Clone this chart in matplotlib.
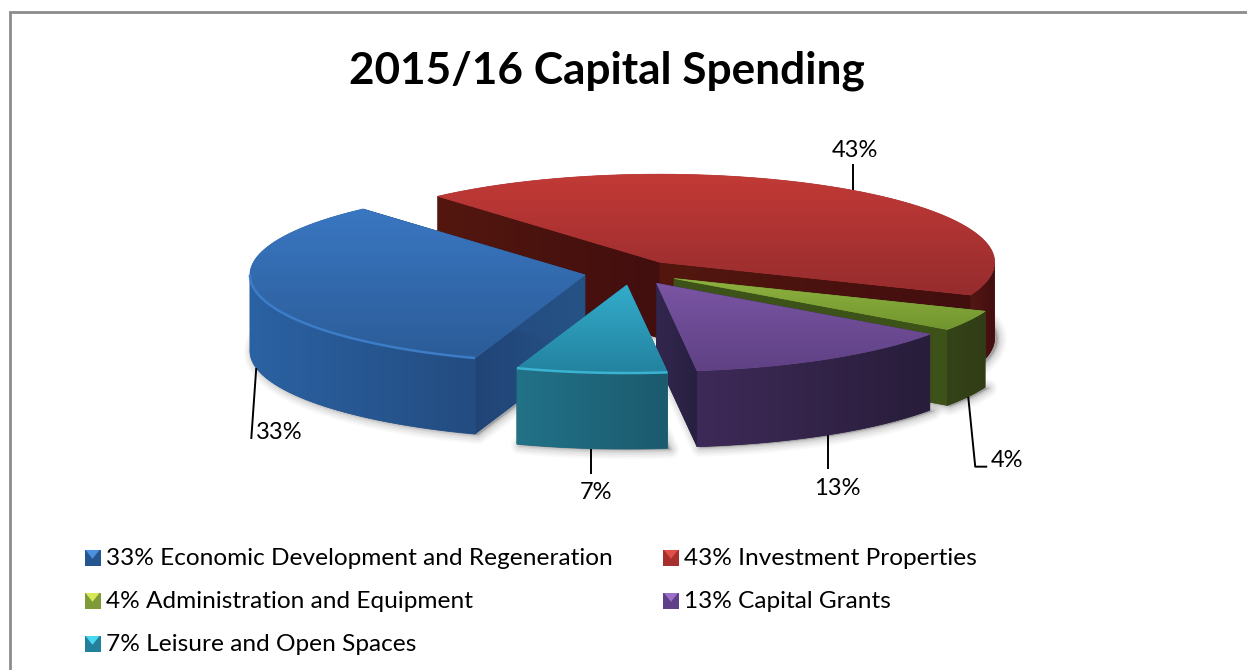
import numpy as np
import matplotlib
matplotlib.use("Agg")
import matplotlib.pyplot as plt
from matplotlib.patches import Polygon
from matplotlib.colors import LinearSegmentedColormap

# ---- data -------------------------------------------------------------
title = "2015/16 Capital Spending"
categories = ["Investment Properties", "Administration and Equipment", "Capital Grants",
              "Leisure and Open Spaces", "Economic Development and Regeneration"]
values = [42.6, 3.75, 13.25, 7.25, 33.15]
legend_order = [4, 0, 1, 2, 3]

# ---- style ------------------------------------------------------------
top_cols = [("#C23A36", "#962C2E"), ("#8FB240", "#72962F"), ("#7A55A3", "#5F4184"),
            ("#33ACCB", "#23829F"), ("#3A77C2", "#2B5C98")]
wall_cols = [("#521713", "#430E10"), ("#354418", "#313D16"), ("#3E2A58", "#281D3A"),
             ("#227288", "#1C5A6E"), ("#2B62A3", "#234C80")]
flat_cols = [("#53170F", "#420E0E"), ("#3D5218", "#3D5218"), ("#33264F", "#272040"),
             ("#1F6075", "#1F6075"), ("#214476", "#265286")]
rim_cols = [None, None, None, "#3DBAD8", "#3F80CC"]
leg_cols = [("#E0504A", "#A8302C"), ("#D8E858", "#7F9A38"), ("#9A70C8", "#5E3F88"),
            ("#48D8F0", "#22809A"), ("#4C90E0", "#265690")]

W, H = 1247, 670
CX, CY, RX, RY = 632.0, 272.5, 335.0, 88.0      # pie centre and ellipse radii, px
DEPTH = 76.0 / RY
EXPLODE = 48.0 / RX
START = 131.5

# leader bend points and label centre, px offsets from the slice's rim point
leaders = [[(0, -26)], [(7, 70), (19, 70)], [(0, 34)], [(0, 25)], [(-5, 71)]]
label_pos = [(2, -40), (39, 64), (9, 54), (4.5, 44), (23, 65)]

fig = plt.figure(figsize=(W / 100, H / 100), dpi=100, facecolor="white")
ax = fig.add_axes([0, 0, 1, 1])
lim = ((-CX / RX, (W - CX) / RX), ((CY - H) / RY, CY / RY))
ax.set_xlim(*lim[0]); ax.set_ylim(*lim[1]); ax.axis("off")
ax.patch.set_alpha(0)

lg = fig.add_axes([0, 0, 1, 1])
lg.set_xlim(0, W); lg.set_ylim(H, 0); lg.axis("off"); lg.patch.set_alpha(0)


def grad(pts, c0, c1, horizontal, z):
    pts = np.asarray(pts)
    cmap = LinearSegmentedColormap.from_list("g", [c0, c1])
    ramp = np.linspace(0, 1, 256)
    img = ramp[None, :] if horizontal else ramp[:, None]
    x0, y0 = pts.min(axis=0); x1, y1 = pts.max(axis=0)
    ax.add_patch(Polygon(pts, closed=True, fc=cmap(0.5), ec=cmap(0.5), lw=0.5, zorder=z))
    im = ax.imshow(img, cmap=cmap, extent=(x0, x1, y0, y1), origin="upper", aspect="auto",
                   interpolation="bilinear", zorder=z + 0.1, vmin=0, vmax=1)
    im.set_clip_path(Polygon(pts, closed=True, transform=ax.transData))


def arc(a0, a1, n=120):
    t = np.radians(np.linspace(a0, a1, n))
    return np.column_stack([np.cos(t), np.sin(t)])


# ---- slices -----------------------------------------------------------
ends = START - np.cumsum(values) * 3.6
begins = np.r_[START, ends[:-1]]
mids = (begins + ends) / 2
down = np.array([0, -DEPTH])
apexes = [EXPLODE * np.array([np.cos(np.radians(m)), np.sin(np.radians(m))]) for m in mids]

# soft shadow below every slice
for a0, a1, ap in zip(begins, ends, apexes):
    base = np.vstack([ap, ap + arc(a0, a1)]) + down + np.array([3 / RX, -1 / RY])
    for lw, al in [(13, .05), (10, .07), (7, .09), (4, .12), (2, .15)]:
        ax.add_patch(Polygon(base, closed=True, fc="#666666", ec="#777777", lw=lw, alpha=al,
                             joinstyle="round", zorder=1))

paint_order = [0, 1, 4, 2, 3]
for rank, i in enumerate(paint_order):
    a0, a1, ap = begins[i], ends[i], apexes[i]
    z = 10 + rank * 5
    # flat inner walls (the curved wall and the top hide whatever faces away)
    for ang in (a0, a1):
        edge = ap + arc(ang, ang, 1)
        quad = np.vstack([ap, edge, edge + down, ap + down])
        c = flat_cols[i]
        grad(quad, c[0], c[1], True, z)
    # outer curved wall: only its front part shows
    front = np.linspace(a1, a0, 400)
    front = front[np.sin(np.radians(front)) <= 0.001]
    if front.size:
        rim = ap + arc(front.min(), front.max())
        wall = np.vstack([rim, (rim + down)[::-1]])
        c = wall_cols[i]
        grad(wall, c[0], c[1], True, z + 1)
    # top face
    top = np.vstack([ap, ap + arc(a0, a1)])
    c = top_cols[i]
    grad(top, c[0], c[1], False, z + 2)
    # bevel highlight on the rim
    if rim_cols[i] and front.size:
        rim = ap + arc(front.min(), front.max())
        ax.plot(rim[:, 0], rim[:, 1], color=rim_cols[i], lw=1.8, alpha=.9,
                zorder=z + 3, solid_capstyle="butt")

# ---- leaders and percent labels (drawn from the slice geometry) ----------
LABEL = dict(family="Lato", fontsize=17, color="black", va="center", ha="center")
px = np.array([1 / RX, -1 / RY])
for i, (m, ap) in enumerate(zip(mids, apexes)):
    anchor = ap + arc(m, m, 1)[0]
    if np.sin(np.radians(m)) < 0:
        anchor = anchor + down
    pts = np.array([anchor] + [anchor + np.array(o) * px for o in leaders[i]])
    ax.plot(pts[:, 0], pts[:, 1], color="black", lw=1.4, zorder=60, solid_capstyle="butt")
    pos = anchor + np.array(label_pos[i]) * px
    ax.text(pos[0], pos[1], f"{round(values[i])}%", zorder=61, **LABEL)

ax.set_xlim(*lim[0]); ax.set_ylim(*lim[1])

# ---- frame, title, legend -----------------------------------------------
lg.plot([9.5, 9.5, W + 2], [H + 2, 12, 12], color="#8C8C8C", lw=2, solid_joinstyle="miter")
lg.text(606.5, 71, title, family="Lato", fontweight="bold", fontsize=31.8,
        ha="center", va="center", color="black")

col_x = [84.5, 663]
row_base = [565, 608, 651]
for n, idx in enumerate(legend_order):
    x = col_x[n % 2]; base = row_base[n // 2]
    c = leg_cols[idx]
    s = 16
    y0 = base - 15
    lg.add_patch(Polygon([(x, y0), (x + s, y0), (x + s, y0 + s), (x, y0 + s)], fc=c[1], ec="none"))
    lg.add_patch(Polygon([(x + 1, y0), (x + s - 1, y0), (x + s / 2, y0 + s * .55)], fc=c[0], ec="none"))
    lg.text(x + 21.5, base, f"{round(values[idx])}% {categories[idx]}", family="Lato", fontsize=17.6,
            ha="left", va="baseline", color="black")

fig.savefig("out.png", dpi=100)
